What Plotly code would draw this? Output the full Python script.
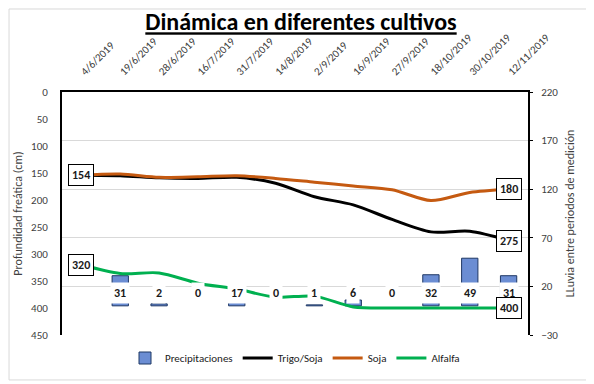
import plotly.graph_objects as go

# ---------------- data ----------------
fechas = ["4/6/2019", "19/6/2019", "28/6/2019", "16/7/2019", "31/7/2019", "14/8/2019",
          "2/9/2019", "16/9/2019", "27/9/2019", "18/10/2019", "30/10/2019", "12/11/2019"]
precipitaciones = [None, 31, 2, 0, 17, 0, 1, 6, 0, 32, 49, 31]
trigo_soja = [154, 155, 159, 160, 158, 169, 194, 209, 236, 259, 258, 275]
soja = [154, 152, 158, 157, 155, 160, 167, 174, 181, 201, 186, 180]
alfalfa = [320, 336, 335, 354, 365, 380, 378, 398, 400, 400, 400, 400]

FONT = "Carlito, Calibri, Lato, sans-serif"
GRAY = "#404040"

fig = go.Figure()

# bars on primary (right) axis so they are drawn below the lines
fig.add_trace(go.Bar(
    x=fechas, y=[v if v else None for v in precipitaciones], name="Precipitaciones",
    yaxis="y", width=0.42,
    marker=dict(color="#6b8dd3", line=dict(color="#1f3864", width=1)),
))

line_series = [("Trigo/Soja", trigo_soja, "#000000"),
               ("Soja", soja, "#c55a11"),
               ("Alfalfa", alfalfa, "#00b050")]
for name, vals, col in line_series:
    fig.add_trace(go.Scatter(
        x=fechas, y=vals, name=name, yaxis="y2", mode="lines",
        line=dict(color=col, width=3, shape="spline", smoothing=0.8),
    ))

annotations = []
# precipitation labels (fixed height band, white background)
for f, v in zip(fechas, precipitaciones):
    if v is None:
        continue
    annotations.append(dict(
        x=f, y=13, xref="x", yref="y", text=f"<b>{v}</b>", showarrow=False,
        bgcolor="white", borderpad=3,
        font=dict(family=FONT, size=12, color="#1a1a1a"),
    ))

# line end-point labels
label_points = [(fechas[0], trigo_soja[0]), (fechas[-1], trigo_soja[-1]),
                (fechas[-1], soja[-1]),
                (fechas[0], alfalfa[0]), (fechas[-1], alfalfa[-1])]
for f, v in label_points:
    annotations.append(dict(
        x=f, y=v, xref="x", yref="y2", text=f"<b>{v}</b>", showarrow=False,
        bgcolor="white", bordercolor="#000000", borderwidth=1, borderpad=3,
        font=dict(family=FONT, size=12, color="#1a1a1a"),
    ))

fig.update_layout(
    width=586, height=376,
    margin=dict(l=54, r=66, t=84, b=49, autoexpand=False),
    paper_bgcolor="white", plot_bgcolor="white",
    font=dict(family=FONT, size=11, color=GRAY),
    title=dict(text="<b><u>Dinámica en diferentes cultivos</u></b>",
               x=0.5, xanchor="center", y=0.963, yanchor="middle",
               font=dict(family=FONT, size=24, color="#000000")),
    xaxis=dict(type="category", side="top", tickangle=-45, automargin=False,
               showline=True, linecolor="#000000", linewidth=2,
               showgrid=False, ticks="", tickfont=dict(size=11, color=GRAY),
               ticklabelstandoff=8),
    yaxis=dict(side="right", range=[-30, 220], dtick=50, tick0=-30, automargin=False,
               showline=True, linecolor="#000000", linewidth=2,
               ticks="outside", ticklen=3, tickcolor="#000000",
               showgrid=True, gridcolor="#d9d9d9", gridwidth=1, zeroline=False,
               title=dict(text="LLuvia entre periodos de medición",
                          font=dict(size=12, color="#404040"), standoff=8),
               ticklabelstandoff=6),
    yaxis2=dict(overlaying="y", side="left", range=[450, 0], dtick=50, automargin=False,
                showline=True, linecolor="#000000", linewidth=2,
                showgrid=False, zeroline=False, ticks="",
                title=dict(text="Profundidad freática (cm)",
                           font=dict(size=12, color="#404040"), standoff=6),
                ticklabelstandoff=10),
    legend=dict(orientation="h", x=0.5, xanchor="center", y=-0.035, yanchor="top",
                font=dict(size=11, color="#1a1a1a"), itemwidth=30,
                traceorder="normal"),
    annotations=annotations,
    shapes=[dict(type="rect", xref="paper", yref="paper",
                 x0=-0.1137, x1=1.137, y0=-0.185, y1=1.3416,
                 line=dict(color="#d9d9d9", width=1), layer="below")],
)

fig.write_html("out.html")
